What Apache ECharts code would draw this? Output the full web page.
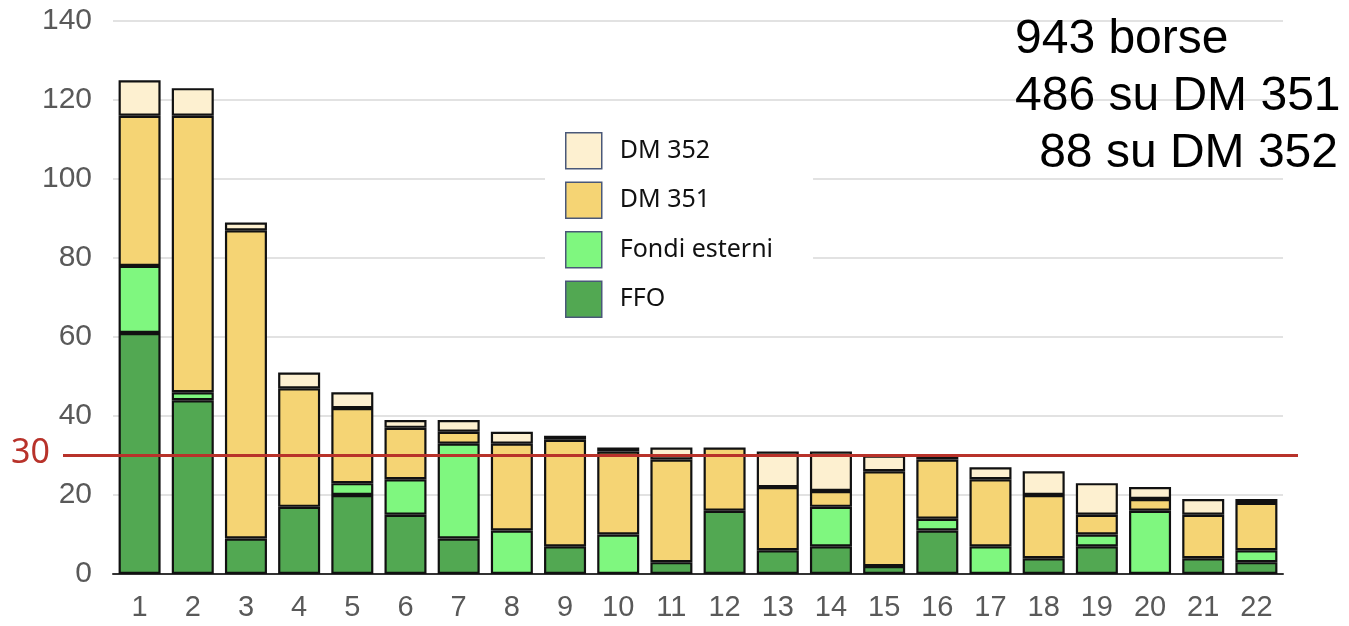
<!DOCTYPE html>
<html>
<head>
<meta charset="utf-8">
<script src="https://cdn.jsdelivr.net/npm/echarts@6/dist/echarts.min.js"></script>
<style>
  html, body { margin: 0; padding: 0; background: #ffffff; }
  #main { width: 1349px; height: 626px; }
</style>
</head>
<body>
<div id="main"></div>
<script>
// categories (atenei 1..22)
var categories = ['1','2','3','4','5','6','7','8','9','10','11','12','13','14','15','16','17','18','19','20','21','22'];
// borse per fonte di finanziamento
var ffo     = [61, 44,  9, 17, 20, 15,  9,  0,  7,  0,  3, 16,  6,  7,  2, 11,  0,  4,  7,  0,  4,  3];
var fondi   = [17,  2,  0,  0,  3,  9, 24, 11,  0, 10,  0,  0,  0, 10,  0,  3,  7,  0,  3, 16,  0,  3];
var dm351   = [38, 70, 78, 30, 19, 13,  3, 22, 27, 21, 26, 16, 16,  4, 24, 15, 17, 16,  5,  3, 11, 12];
var dm352   = [ 9,  7,  2,  4,  4,  2,  3,  3,  1,  1,  3,  0,  9, 10,  4,  1,  3,  6,  8,  3,  4,  1];
var threshold = 30;
var notes = ['943 borse', '486 su DM 351', '88 su DM 352'];

var chart = echarts.init(document.getElementById('main'));

function barSeries(name, data, color) {
  return {
    name: name,
    type: 'bar',
    stack: 'tot',
    // zero-height segments would draw an extra border line
    data: data.map(function (v) { return v === 0 ? '-' : v; }),
    barCategoryGap: '21%',
    itemStyle: { color: color, borderColor: '#111111', borderWidth: 2.2 }
  };
}

var option = {
  animation: false,
  grid: { left: 113, right: 66, top: 21, bottom: 52, containLabel: false },
  legend: {
    orient: 'vertical',
    left: 545,
    top: 122,
    padding: [10, 40, 10, 20],
    backgroundColor: '#ffffff',
    itemWidth: 36,
    itemHeight: 36,
    itemGap: 12,
    icon: 'rect',
    data: ['DM 352', 'DM 351', 'Fondi esterni', 'FFO'],
    itemStyle: { borderColor: '#4a5878', borderWidth: 1.5 },
    textStyle: { fontFamily: 'Noto Sans', fontSize: 25, color: '#111111', padding: [0, 0, 0, 13] },
    z: 10
  },
  xAxis: {
    type: 'category',
    data: categories,
    axisLine: { lineStyle: { color: '#333333', width: 2 } },
    axisTick: { show: false },
    axisLabel: { fontFamily: 'Liberation Sans', fontSize: 29, color: '#595959', margin: 19 }
  },
  yAxis: {
    type: 'value',
    min: 0,
    max: 140,
    interval: 20,
    axisLine: { show: false },
    axisTick: { show: false },
    splitLine: { lineStyle: { color: '#d9d9d9', width: 1.5 } },
    axisLabel: { fontFamily: 'Liberation Sans', fontSize: 30, color: '#595959', margin: 21 }
  },
  series: [
    barSeries('FFO', ffo, '#52a852'),
    barSeries('Fondi esterni', fondi, '#7ff77f'),
    barSeries('DM 351', dm351, '#f5d474'),
    barSeries('DM 352', dm352, '#fdf0d0')
  ]
};
chart.setOption(option);

// soglia a 30 (linea rossa estesa oltre l'asse) e note in alto a destra
var yT = chart.convertToPixel({ yAxisIndex: 0 }, threshold);
chart.setOption({
  graphic: [
    {
      type: 'line', z: 100,
      shape: { x1: 63, y1: yT, x2: 1298, y2: yT },
      style: { stroke: '#b8322a', lineWidth: 2.8 }
    },
    {
      type: 'text', z: 100, left: 11, top: yT - 19,
      style: { text: String(threshold), fill: '#b8322a', font: '34px "Noto Sans"' }
    },
    {
      type: 'text', z: 100, left: 1015, top: 16,
      style: { text: notes[0], fill: '#000000', font: '48px "Liberation Sans"' }
    },
    {
      type: 'text', z: 100, left: 1015, top: 73,
      style: { text: notes[1], fill: '#000000', font: '48px "Liberation Sans"' }
    },
    {
      type: 'text', z: 100, right: 11, top: 130,
      style: { text: notes[2], fill: '#000000', font: '48px "Liberation Sans"', textAlign: 'right' }
    }
  ]
});
</script>
</body>
</html>
